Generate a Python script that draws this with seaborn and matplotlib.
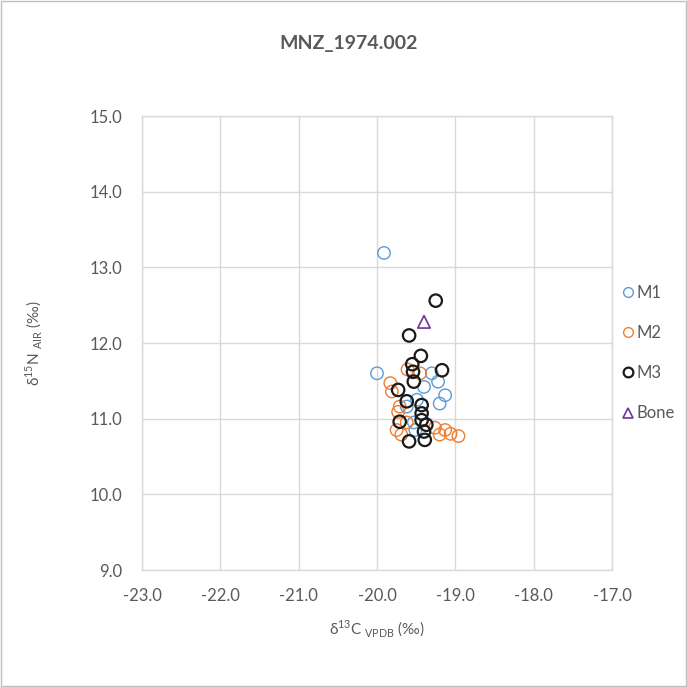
import numpy as np
import pandas as pd
import matplotlib
matplotlib.use("Agg")
import matplotlib.pyplot as plt
from matplotlib.lines import Line2D
import seaborn as sns

# values
m1_c = [-19.91, -20.00, -19.30, -19.22, -19.40, -19.13, -19.20, -19.49, -19.62, -19.51, -19.53]
m1_n = [13.19, 11.60, 11.60, 11.49, 11.42, 11.31, 11.20, 11.25, 11.16, 10.85, 10.95]

m2_c = [-19.61, -19.45, -19.83, -19.81, -19.71, -19.73, -19.75, -19.69, -19.26, -19.13, -19.06, -18.96, -19.20, -19.62]
m2_n = [11.65, 11.60, 11.47, 11.36, 11.16, 11.09, 10.85, 10.79, 10.88, 10.85, 10.80, 10.77, 10.79, 10.95]

m3_c = [-19.25, -19.59, -19.44, -19.55, -19.54, -19.17, -19.53, -19.73, -19.62, -19.43, -19.43,
        -19.71, -19.43, -19.37, -19.40, -19.59, -19.39]
m3_n = [12.56, 12.10, 11.83, 11.72, 11.62, 11.64, 11.49, 11.38, 11.23, 11.18, 11.07,
        10.96, 10.98, 10.92, 10.83, 10.70, 10.72]

bone_c = [-19.40]
bone_n = [12.28]

groups = ["M1", "M2", "M3", "Bone"]
colors = {"M1": "#5B9BD5", "M2": "#ED7D31", "M3": "#1a1a1a", "Bone": "#7030A0"}
markers = {"M1": "o", "M2": "o", "M3": "o", "Bone": "^"}
widths = {"M1": 1.0, "M2": 1.0, "M3": 1.6, "Bone": 1.2}

df = pd.concat([
    pd.DataFrame({"d13C": m1_c, "d15N": m1_n, "group": "M1"}),
    pd.DataFrame({"d13C": m2_c, "d15N": m2_n, "group": "M2"}),
    pd.DataFrame({"d13C": m3_c, "d15N": m3_n, "group": "M3"}),
    pd.DataFrame({"d13C": bone_c, "d15N": bone_n, "group": "Bone"}),
], ignore_index=True)

sns.set_style("white")
plt.rcParams["font.family"] = ["Lato", "DejaVu Sans"]
plt.rcParams["mathtext.fontset"] = "custom"
plt.rcParams["mathtext.rm"] = "Lato"

fig = plt.figure(figsize=(6.87, 6.87), dpi=100)
ax = fig.add_axes([0.2067, 0.1703, 0.6841, 0.6608])

sns.scatterplot(data=df, x="d13C", y="d15N", hue="group", style="group",
                palette=colors, markers=markers, hue_order=groups, style_order=groups,
                s=80, legend=False, ax=ax)

# make the markers hollow like the reference
coll = ax.collections[0]
fc = coll.get_facecolors()
coll.set_edgecolors(fc)
coll.set_facecolors("none")
coll.set_linewidths([widths[g] for g in df["group"]])

ax.set_xlim(-23, -17)
ax.set_ylim(9, 15)
ax.set_xticks(np.arange(-23, -16.9, 1.0))
ax.set_yticks(np.arange(9, 15.1, 1.0))
ax.set_xticklabels([f"{v:.1f}" for v in np.arange(-23, -16.9, 1.0)])
ax.set_yticklabels([f"{v:.1f}" for v in np.arange(9, 15.1, 1.0)])
ax.tick_params(length=0, labelsize=12, colors="#595959")
ax.tick_params(axis="x", pad=13)
ax.tick_params(axis="y", pad=14)
ax.grid(True, color="#D9D9D9", linewidth=1.0)
ax.set_axisbelow(True)
for sp in ax.spines.values():
    sp.set_color("#D9D9D9")
    sp.set_linewidth(1.0)

ax.set_xlabel(r"δ$^{13}$C $_{\mathrm{VPDB}}$ (‰)", fontsize=11, color="#595959", labelpad=10)
ax.set_ylabel(r"δ$^{15}$N $_{\mathrm{AIR}}$ (‰)", fontsize=11, color="#595959", labelpad=33)
fig.suptitle("MNZ_1974.002", x=0.508, y=0.937, va="center", fontsize=14,
             fontweight="bold", color="#595959")

handles = [Line2D([], [], linestyle="none", marker=markers[g], markersize=7,
                  markerfacecolor="none", markeredgecolor=colors[g],
                  markeredgewidth=widths[g]) for g in groups]
fig.legend(handles, groups, loc="center left", bbox_to_anchor=(0.895, 0.486),
           frameon=False, fontsize=12, labelspacing=1.45, handlelength=0.6,
           handletextpad=0.2, borderpad=0, labelcolor="#595959")

# chart area border
fig.add_artist(plt.Rectangle((0.002, 0.002), 0.996, 0.996, transform=fig.transFigure,
                             fill=False, edgecolor="#BFBFBF", linewidth=1.0))

fig.savefig("out.png", dpi=100)
